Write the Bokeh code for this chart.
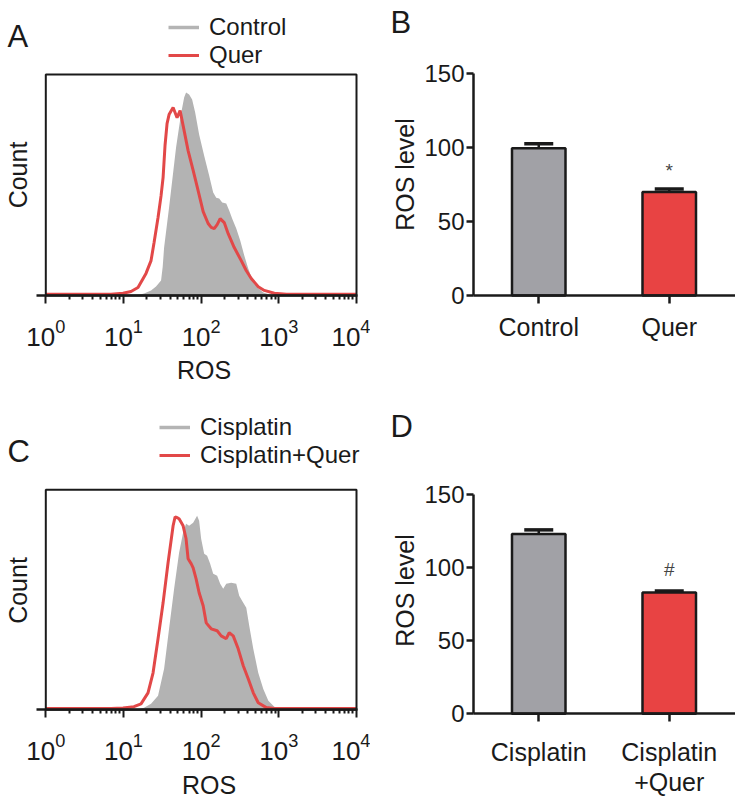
import numpy as np
from bokeh.plotting import figure
from bokeh.models import (Range1d, FixedTicker, LogTickFormatter, Label, Legend,
                          LegendItem, BoxAnnotation, Whisker, TeeHead, ColumnDataSource)
from bokeh.layouts import column, row
from bokeh.embed import file_html
from bokeh.resources import INLINE
from bokeh.core.properties import value

FONT = "Liberation Sans"
INK = "#1a1a1a"
HIST_GRAY = "#b3b3b3"
LEG_GRAY = "#b4b4b4"
HIST_RED = "#e24848"
BAR_GRAY = "#a1a1a6"
BAR_RED = "#e84343"

# ---------------- data ----------------
# Panel A: flow histograms (log10 ROS intensity, normalised count)
a_ctrl_log = [1.16, 1.265, 1.355, 1.419, 1.484, 1.505, 1.523, 1.587, 1.677, 1.742, 1.781, 1.806,
              1.845, 1.884, 1.923, 1.974, 2.039, 2.103, 2.155, 2.194, 2.232, 2.271, 2.323, 2.361,
              2.40, 2.452, 2.503, 2.555, 2.606, 2.658, 2.723, 2.80, 2.90, 3.03]
a_ctrl_cnt = [0, 0.9, 2.3, 4.1, 6.8, 13.0, 21.7, 39.8, 67.0, 82.4, 89.6, 91.9,
              91.0, 88.7, 82.8, 72.9, 63.3, 54.3, 46.6, 44.3, 43.9, 42.1, 41.6, 38.5,
              34.8, 30.3, 24.9, 18.1, 12.2, 7.2, 3.6, 1.4, 0.2, 0]
a_quer_log = [0.0, 0.839, 0.994, 1.097, 1.187, 1.29, 1.355, 1.394, 1.445, 1.484, 1.510, 1.535,
              1.561, 1.587, 1.639, 1.690, 1.729, 1.768, 1.832, 1.897, 1.961, 2.026, 2.09, 2.129,
              2.168, 2.206, 2.245, 2.297, 2.348, 2.426, 2.516, 2.58, 2.645, 2.735, 2.813, 2.942,
              3.097, 4.0]
a_quer_cnt = [0.6, 0.6, 1.0, 1.8, 3.6, 10.0, 15.8, 24.0, 35.3, 45.2, 53.4, 67.9,
              77.8, 81.9, 85.1, 80.5, 83.7, 76.9, 65.6, 56.6, 47.5, 38.0, 32.6, 30.8,
              30.3, 32.1, 34.8, 33.0, 28.0, 21.7, 15.8, 11.3, 7.7, 4.0, 2.3, 1.0,
              0.6, 0.6]

# Panel C: flow histograms
c_cis_log = [1.161, 1.265, 1.355, 1.445, 1.523, 1.587, 1.652, 1.716, 1.768, 1.806, 1.845, 1.897,
             1.948, 1.974, 2.0, 2.039, 2.077, 2.116, 2.155, 2.206, 2.245, 2.284, 2.323, 2.387,
             2.452, 2.49, 2.542, 2.581, 2.619, 2.671, 2.735, 2.80, 2.865, 2.942, 3.032, 3.16]
c_cis_cnt = [0, 0.9, 2.7, 6.4, 18.6, 36.8, 55.0, 71.4, 80.5, 84.5, 83.6, 85.0,
             88.2, 85.9, 77.7, 70.9, 70.0, 66.4, 61.8, 60.9, 57.3, 55.0, 57.3, 57.7,
             57.3, 51.8, 48.6, 46.4, 38.2, 27.7, 16.8, 9.5, 4.1, 1.4, 0.2, 0]
c_cq_log = [0.0, 0.839, 0.994, 1.135, 1.226, 1.316, 1.381, 1.445, 1.510, 1.574, 1.639, 1.665,
            1.690, 1.716, 1.768, 1.806, 1.832, 1.871, 1.897, 1.935, 1.974, 2.026, 2.065, 2.129,
            2.206, 2.258, 2.323, 2.361, 2.413, 2.477, 2.542, 2.606, 2.671, 2.735, 2.839, 2.942,
            3.097, 4.0]
c_cq_cnt = [0.6, 0.6, 0.8, 1.4, 2.7, 7.7, 16.8, 32.3, 48.6, 66.8, 83.6, 87.7,
            87.3, 86.8, 83.6, 77.7, 68.6, 66.4, 64.5, 59.5, 53.2, 47.3, 39.5, 36.8,
            35.9, 33.6, 32.3, 35.0, 33.6, 27.7, 20.0, 14.1, 7.7, 3.2, 1.0, 0.6,
            0.6, 0.6]

# Panel B / D: bar charts (mean, mean + error, significance mark)
b_cats = ["Control", "Quer"]
b_vals = [99.5, 70.0]
b_upper = [102.5, 72.0]
b_sig = ["", "*"]
b_sig_y = [0, 84.5]

d_cats = ["Cisplatin", "Cisplatin\n+Quer"]
d_vals = [123.0, 83.0]
d_upper = [125.8, 84.0]
d_sig = ["", "#"]
d_sig_y = [0, 98.5]

bar_colors = [BAR_GRAY, BAR_RED]
decades = [1, 10, 100, 1000, 10000]
hist_minor = [m * d for d in decades[:-1] for m in range(2, 10)]
bar_ticks = [0, 50, 100, 150]

ROT = np.pi / 2


def lin_range(px_a, v_a, px_b, v_b, lo_px, hi_px):
    """Data range whose ends fall at pixel lo_px / hi_px, given two anchors."""
    k = (v_b - v_a) / (px_b - px_a)
    return v_a + (lo_px - px_a) * k, v_a + (hi_px - px_a) * k


class Panel:
    def __init__(self, p, left, top, height):
        self.p, self.left, self.bottom = p, left, top + height

    def label(self, text, px, py, size, align="left", angle=0.0, color=INK):
        # (px, py) is the middle of the text box, in page pixels
        self.p.add_layout(Label(x=px - self.left, y=self.bottom - py, x_units="screen",
                                y_units="screen", text=text, text_font=FONT,
                                text_font_size=size, text_color=color, text_align=align,
                                text_baseline="middle", angle=angle))

    def legend(self, renderer, text, px, py_bottom):
        lg = Legend(items=[LegendItem(label=text, renderers=[renderer])],
                    location=(px - self.left, self.bottom - py_bottom),
                    orientation="vertical", padding=0, margin=0, spacing=0,
                    glyph_width=31, glyph_height=28, label_height=28, label_standoff=10,
                    label_text_font=FONT, label_text_font_size="24px", label_text_color=INK,
                    border_line_color=None, background_fill_alpha=0)
        self.p.add_layout(lg)


def style_axis(ax, tick_out, tick_w, font_size, standoff):
    ax.axis_line_width = 2.5
    ax.axis_line_color = INK
    ax.major_tick_out = tick_out
    ax.major_tick_in = 0
    ax.major_tick_line_width = tick_w
    ax.major_tick_line_color = INK
    ax.major_label_standoff = standoff
    ax.major_label_text_font = FONT
    ax.major_label_text_font_size = font_size
    ax.major_label_text_color = INK


def histogram(left, top, width, height, y0_px, y100_px, gray_log, gray_cnt, red_log, red_cnt):
    # log10 decade 0 at x=45.3, decade 4 at x=356 (page pixels)
    lx0, lx1 = lin_range(45.3, 0, 356.0, 4, left, left + width)
    ylo, yhi = lin_range(y0_px, 0, y100_px, 100, top + height, top)
    p = figure(width=width, height=height, output_backend="svg", toolbar_location=None,
               x_axis_type="log", x_range=Range1d(10 ** lx0, 10 ** lx1),
               y_range=Range1d(ylo, yhi), y_axis_location=None, min_border=0)
    p.outline_line_color = None
    p.grid.visible = False
    p.varea(x=10 ** np.array(gray_log), y1=0, y2=gray_cnt, fill_color=HIST_GRAY)
    r = p.line(x=10 ** np.array(red_log), y=red_cnt, line_color=HIST_RED, line_width=3)
    p.add_layout(BoxAnnotation(left=decades[0], right=decades[-1], bottom=0, top=100,
                               fill_alpha=0, line_alpha=1, line_color=INK, line_width=2))
    ax = p.xaxis[0]
    ax.fixed_location = 0
    ax.bounds = (10 ** -0.12, 10 ** 4.01)
    ax.ticker = FixedTicker(ticks=decades, minor_ticks=hist_minor)
    ax.formatter = LogTickFormatter()
    style_axis(ax, 8, 2, "26px", 15)
    ax.minor_tick_out = 4
    ax.minor_tick_in = 0
    ax.minor_tick_line_width = 2
    ax.minor_tick_line_color = INK
    # legend-only proxy for the filled grey histogram (draws nothing in the plot)
    proxy = p.line(x=[np.nan], y=[np.nan], line_color=LEG_GRAY, line_width=3.5)
    return Panel(p, left, top, height), proxy, r


def bars(left, top, width, height, y0_px, y150_px, cats, vals, upper, sig, sig_y, standoff):
    # category slot 0 starts at x=473, slot 2 ends at x=734 (page pixels)
    x_lo, x_hi = lin_range(473.0, 0, 734.0, 2, left, left + width)
    ylo, yhi = lin_range(y0_px, 0, y150_px, 150, top + height, top)
    p = figure(width=width, height=height, output_backend="svg", toolbar_location=None,
               x_range=Range1d(x_lo, x_hi), y_range=Range1d(ylo, yhi), min_border=0)
    p.outline_line_color = None
    p.grid.visible = False
    xs = [i + 0.5 for i in range(len(cats))]
    src = ColumnDataSource(dict(x=xs, val=vals, upper=upper, color=bar_colors,
                                sig=sig, sig_y=sig_y))
    p.vbar(x="x", top="val", width=0.41, source=src, fill_color="color",
           line_color=INK, line_width=2.5)
    p.add_layout(Whisker(source=src, base="x", upper="upper", lower="val",
                         dimension="height", line_color=INK, line_width=2.5,
                         upper_head=TeeHead(size=29, line_width=3.5, line_color=INK),
                         lower_head=None))
    p.text(x="x", y="sig_y", text="sig", source=src, text_font=value(FONT),
           text_font_size="19px", text_color="#444444", text_align="center",
           text_baseline="middle")
    ya = p.yaxis[0]
    ya.fixed_location = 0
    ya.bounds = (0, 150)
    ya.ticker = FixedTicker(ticks=bar_ticks)
    style_axis(ya, 7, 2.5, "24px", 2)
    ya.minor_tick_out = 0
    ya.minor_tick_in = 0
    xa = p.xaxis[0]
    xa.fixed_location = 0
    xa.bounds = (0, 2.02)
    xa.ticker = FixedTicker(ticks=xs)
    xa.major_label_overrides = {x: c for x, c in zip(xs, cats)}
    style_axis(xa, 8, 2.5, "25px", standoff)
    xa.minor_tick_out = 0
    xa.minor_tick_in = 0
    xa.major_label_text_line_height = 1.07
    return Panel(p, left, top, height)


# ---- Panel A ----
A, proxyA, redA = histogram(0, 0, 370, 410, 295.0, 74.1,
                            a_ctrl_log, a_ctrl_cnt, a_quer_log, a_quer_cnt)
A.legend(proxyA, "Control", 168, 40.5)
A.legend(redA, "Quer", 168, 69.0)
A.label("A", 7, 36.3, "31px")
A.label("Count", 17.3, 174.5, "25px", align="center", angle=ROT)
A.label("ROS", 203.5, 369.3, "25px", align="center")

# ---- Panel B ----
B = bars(370, 0, 365, 410, 295.0, 73.0, b_cats, b_vals, b_upper, b_sig, b_sig_y, 9)
B.label("B", 390, 22.3, "31px")
B.label("ROS level", 404.3, 174, "25px", align="center", angle=ROT)

# ---- Panel C ----
C, proxyC, redC = histogram(0, 410, 370, 390, 709.3, 489.2,
                            c_cis_log, c_cis_cnt, c_cq_log, c_cq_cnt)
C.legend(proxyC, "Cisplatin", 159, 440.5)
C.legend(redC, "Cisplatin+Quer", 159, 469.0)
C.label("C", 7, 451.3, "31px")
C.label("Count", 17.8, 590, "25px", align="center", angle=ROT)
C.label("ROS", 208.5, 784.5, "25px", align="center")

# ---- Panel D ----
D = bars(370, 410, 365, 390, 713.3, 494.0, d_cats, d_vals, d_upper, d_sig, d_sig_y, 16)
D.label("D", 390, 426.3, "31px")
D.label("ROS level", 404.3, 590, "25px", align="center", angle=ROT)

layout = column(row(A.p, B.p), row(C.p, D.p))
open("out.html", "w").write(file_html(layout, INLINE))
